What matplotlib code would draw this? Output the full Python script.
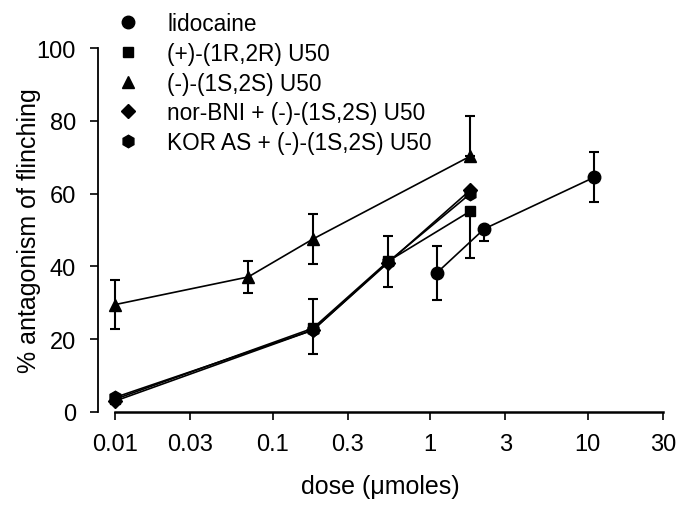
import matplotlib as mpl
import matplotlib.pyplot as plt
from matplotlib.lines import Line2D
import numpy as np

mpl.rcParams['font.family'] = ['Liberation Sans', 'DejaVu Sans']

# dose in umoles, % antagonism, error (lower, upper)
lido_x = [1.1, 2.2, 11]
lido_y = [38.2, 50.3, 64.5]
lido_lo = [7.3, 3.4, 6.8]
lido_hi = [7.3, 0, 6.8]

rr_x = [0.01, 0.18, 0.54, 1.8]
rr_y = [3.5, 23.0, 41.4, 55.2]
rr_lo = [0, 0, 7.0, 13.0]
rr_hi = [0, 8.0, 7.0, 0]

ss_x = [0.01, 0.07, 0.18, 1.8]
ss_y = [29.5, 37.1, 47.5, 70.3]
ss_lo = [6.8, 4.3, 6.8, 0]
ss_hi = [6.8, 4.3, 6.8, 11.0]

nor_x = [0.01, 0.18, 0.54, 1.8]
nor_y = [3.0, 22.5, 41.0, 61.0]

kor_x = [0.01, 0.18, 0.54, 1.8]
kor_y = [4.0, 22.5, 41.2, 60.0]
kor_lo = [0, 6.5, 0, 0]
kor_hi = [0, 0, 0, 0]

labels = ['lidocaine', '(+)-(1R,2R) U50', '(-)-(1S,2S) U50',
          'nor-BNI + (-)-(1S,2S) U50', 'KOR AS + (-)-(1S,2S) U50']
markers = ['o', 's', '^', 'D', 'h']
msizes = [9, 7.5, 8.5, 7.5, 9]

xticks = [0.01, 0.03, 0.1, 0.3, 1, 3, 10, 30]
xticklabels = ['0.01', '0.03', '0.1', '0.3', '1', '3', '10', '30']

fig = plt.figure(figsize=(6.8, 5.06), dpi=100)
ax = fig.add_axes([98/680, 1 - 413/506, (663-98)/680, (413-49)/506])

series = [
    (lido_x, lido_y, lido_lo, lido_hi),
    (rr_x, rr_y, rr_lo, rr_hi),
    (ss_x, ss_y, ss_lo, ss_hi),
    (nor_x, nor_y, None, None),
    (kor_x, kor_y, kor_lo, kor_hi),
]
for (xs, ys, lo, hi), m, ms in zip(series, markers, msizes):
    ax.plot(xs, ys, color='black', lw=1.2, marker=m, ms=ms, zorder=3, clip_on=False)
    if lo is not None:
        ax.errorbar(xs, ys, yerr=[lo, hi], fmt='none', ecolor='black',
                    elinewidth=1.5, capsize=3.5, capthick=1.5, zorder=2, clip_on=False)

ax.set_xscale('log')
ax.set_xlim(10 ** (-2 - 17/157.7), 30)
ax.set_ylim(0, 100)
ax.set_xticks(xticks, xticklabels)
ax.xaxis.set_minor_locator(mpl.ticker.NullLocator())
ax.set_yticks([0, 20, 40, 60, 80, 100])

ax.spines['top'].set_visible(False)
ax.spines['right'].set_visible(False)
ax.spines['left'].set_bounds(0, 100)
ax.spines['bottom'].set_bounds(0.01, 30)
ax.spines['left'].set_linewidth(1.3)
ax.spines['bottom'].set_linewidth(1.8)
ax.tick_params(axis='both', direction='out', length=6, width=1.2, labelsize=17)
ax.tick_params(axis='y', pad=10)
ax.tick_params(axis='x', pad=9)

ax.set_xlabel('dose (\u03bcmoles)', fontsize=18, labelpad=14)
ax.set_ylabel('% antagonism of flinching', fontsize=18, labelpad=-3)

handles = [Line2D([], [], ls='none', marker=m, ms=ms, color='black')
           for m, ms in zip(markers, msizes)]
fig.legend(handles, labels, loc='upper left', bbox_to_anchor=(116.7/680, 1 - 13/506),
           frameon=False, fontsize=16.3, handlelength=1.0, handletextpad=1.23,
           labelspacing=0.3, borderpad=0, borderaxespad=0)

fig.savefig('out.png', dpi=100)
